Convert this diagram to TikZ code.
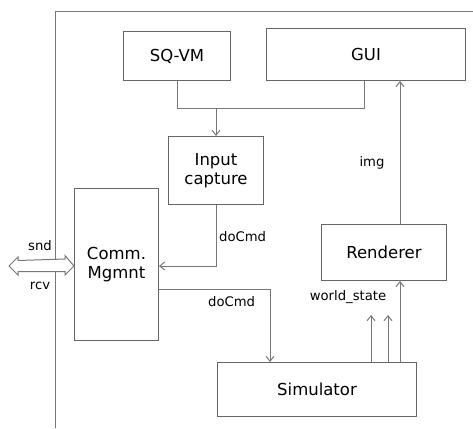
\documentclass[tikz,border=0pt]{standalone}
\usepackage{fontspec}
\setmainfont{DejaVu Sans}
\usetikzlibrary{arrows.meta,calc}
\definecolor{edge}{HTML}{666666}
\definecolor{wire}{HTML}{777777}
\begin{document}
\begin{tikzpicture}[x=1pt,y=-1pt,
  block/.style={draw=edge,line width=1pt,inner sep=0pt,anchor=north west,
    font=\fontsize{16.5}{19.5}\selectfont,align=center},
  wirearrow/.style={draw=wire,line width=1pt,-{Straight Barb[length=5pt,width=8pt]}},
  wireline/.style={draw=wire,line width=1pt},
  lbl/.style={font=\fontsize{13.2}{15}\selectfont,inner sep=0pt}]
\useasboundingbox (0,0) rectangle (473,428);
% enclosing system boundary
\draw[wireline] (55,428) -- (55,12) -- (473,12);
% blocks
\node[block,minimum width=107pt,minimum height=49pt] (sqvm) at (123,31) {SQ-VM};
\node[block,minimum width=199pt,minimum height=52pt] (gui) at (266,28) {GUI};
\node[block,minimum width=95pt,minimum height=68pt] (input) at (168,136) {Input\\capture};
\node[block,minimum width=84pt,minimum height=152pt] (comm) at (74,188) {Comm.\\Mgmnt};
\node[block,minimum width=125pt,minimum height=56pt] (render) at (321,224) {Renderer};
\node[block,minimum width=199pt,minimum height=54pt] (sim) at (217,362) {Simulator};
% SQ-VM and GUI merge into input capture
\coordinate (join) at (216,108);
\draw[wireline] (sqvm.south -| 177,0) |- (join);
\draw[wireline] (gui.south -| 364,0) |- (join);
\draw[wirearrow] (join) -- (input.north -| join);
% input capture -> comm
\draw[wirearrow] (input.south -| 216,0) |- (comm.east |- 0,266);
\node[lbl,anchor=west] (docmd1) at (219,237) {doCmd};
% comm -> simulator
\draw[wirearrow] (comm.east |- 0,289) -| (sim.north -| 270,0);
\node[lbl,anchor=west] (docmd2) at (208,302) {doCmd};
% simulator -> renderer
\coordinate (ws1) at (371,315);
\coordinate (ws2) at (388,315);
\draw[wirearrow] (sim.north -| ws1) -- (ws1);
\draw[wirearrow] (sim.north -| ws2) -- (ws2);
\draw[wirearrow] (sim.north -| 400,0) -- (render.south -| 400,0);
\node[lbl] (ws) at (348,297) {world\_state};
% renderer -> gui
\draw[wirearrow] (render.north -| 400,0) -- (gui.south -| 400,0);
\node[lbl] (img) at (372,163) {img};
% external link
\coordinate (ext) at (9,266);
\draw[draw=wire,line width=1pt,fill=white,line join=miter]
  (ext) -- ++(9,-9) -- ++(0,3.5) -- ($(comm.west)+(-9,-5.5)$) -- ++(0,-3.5)
  -- (comm.west |- ext) -- ++(-9,9) -- ++(0,-3.5) -- ($(ext)+(9,5.5)$) -- ++(0,3.5) -- cycle;
\node[lbl] (snd) at (40,246) {snd};
\node[lbl] (rcv) at (40,286) {rcv};
\end{tikzpicture}
\end{document}
